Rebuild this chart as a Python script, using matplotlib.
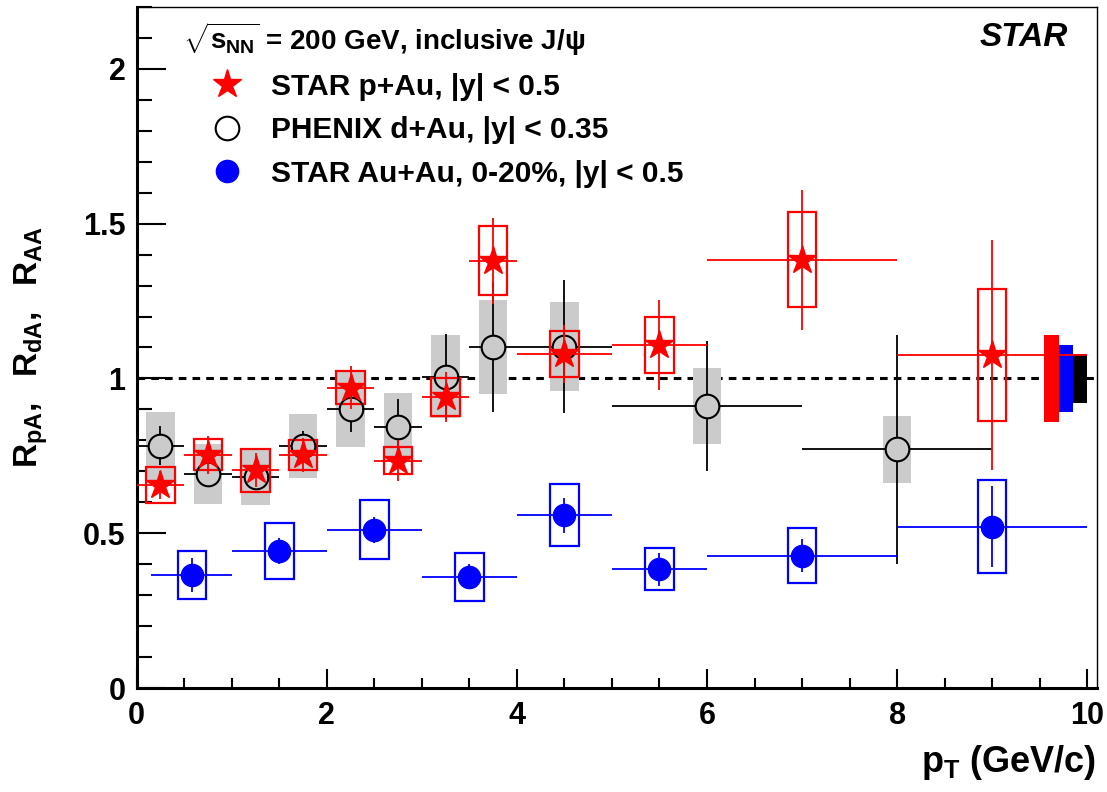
import numpy as np
import matplotlib
matplotlib.use('Agg')
import matplotlib.pyplot as plt
from matplotlib.lines import Line2D
from matplotlib.ticker import MultipleLocator, FuncFormatter

plt.rcParams['font.family'] = ['Liberation Sans', 'DejaVu Sans']
plt.rcParams['font.weight'] = 'bold'
plt.rcParams['axes.labelweight'] = 'bold'
plt.rcParams['mathtext.fontset'] = 'custom'
plt.rcParams['mathtext.rm'] = 'Liberation Sans:bold'
plt.rcParams['mathtext.it'] = 'Liberation Sans:bold'
plt.rcParams['mathtext.bf'] = 'Liberation Sans:bold'

# ---- STAR p+Au ----
star_x = np.array([0.25, 0.75, 1.25, 1.75, 2.25, 2.75, 3.25, 3.75, 4.5, 5.5, 7.0, 9.0])
star_xerr = np.array([0.25, 0.25, 0.25, 0.25, 0.25, 0.25, 0.25, 0.25, 0.5, 0.5, 1.0, 1.0])
star_y = np.array([0.656, 0.753, 0.704, 0.753, 0.970, 0.735, 0.940, 1.380, 1.079, 1.108, 1.384, 1.076])
star_stat = np.array([0.045, 0.06, 0.055, 0.055, 0.07, 0.065, 0.08, 0.138, 0.094, 0.144, 0.226, 0.371])
star_sys = np.array([0.059, 0.05, 0.069, 0.049, 0.053, 0.044, 0.061, 0.112, 0.074, 0.091, 0.152, 0.214])

# ---- PHENIX d+Au ----
phx_x = np.array([0.25, 0.75, 1.25, 1.75, 2.25, 2.75, 3.25, 3.75, 4.5, 6.0, 8.0])
phx_xerr = np.array([0.25, 0.25, 0.25, 0.25, 0.25, 0.25, 0.25, 0.25, 0.5, 1.0, 1.0])
phx_y = np.array([0.783, 0.691, 0.683, 0.783, 0.902, 0.842, 1.005, 1.102, 1.103, 0.910, 0.771])
phx_stat = np.array([0.062, 0.04, 0.035, 0.047, 0.075, 0.093, 0.137, 0.209, 0.214, 0.21, 0.37])
phx_sys = np.array([0.11, 0.096, 0.093, 0.103, 0.122, 0.112, 0.134, 0.152, 0.143, 0.123, 0.107])

# ---- STAR Au+Au 0-20% ----
aa_x = np.array([0.58, 1.5, 2.5, 3.5, 4.5, 5.5, 7.0, 9.0])
aa_xlo = np.array([0.15, 1.0, 2.0, 3.0, 4.0, 5.0, 6.0, 8.0])
aa_xhi = np.array([1.0, 2.0, 3.0, 4.0, 5.0, 6.0, 8.0, 10.0])
aa_y = np.array([0.365, 0.443, 0.512, 0.360, 0.558, 0.384, 0.428, 0.522])
aa_stat = np.array([0.055, 0.042, 0.042, 0.04, 0.057, 0.054, 0.054, 0.13])
aa_sys = np.array([0.078, 0.089, 0.096, 0.077, 0.10, 0.068, 0.089, 0.15])

# global normalization uncertainties (p+Au, Au+Au, d+Au)
norm_x = [9.625, 9.775, 9.925]
norm_err = [0.14, 0.108, 0.079]
norm_col = ['red', 'blue', 'black']

labels = ['STAR p+Au, |y| < 0.5', 'PHENIX d+Au, |y| < 0.35', 'STAR Au+Au, 0-20%, |y| < 0.5']

box_w = 0.3
xmax, ymax = 10.1, 2.2

fig = plt.figure(figsize=(11.07, 7.92), dpi=100)
ax = fig.add_axes([0.1235, 0.131, 0.8672, 0.8605])
ax.set_xlim(0, xmax)
ax.set_ylim(0, ymax)

ax.axhline(1.0, color='black', ls=(0, (2.5, 2)), lw=2.2, zorder=1)

# systematic boxes
ax.bar(phx_x, 2 * phx_sys, bottom=phx_y - phx_sys, width=box_w, color='#cbcbcb', lw=0, zorder=2)
ax.bar(norm_x, 2 * np.array(norm_err), bottom=1 - np.array(norm_err), width=0.15, color=norm_col, lw=0, zorder=2)
ax.bar(star_x, 2 * star_sys, bottom=star_y - star_sys, width=box_w, facecolor='none', edgecolor='red', lw=1.6, zorder=4)
ax.bar(aa_x, 2 * aa_sys, bottom=aa_y - aa_sys, width=box_w, facecolor='none', edgecolor='blue', lw=1.6, zorder=4)

# PHENIX error bars stop at the open marker edge
ms_phx = 17
r_px = ms_phx / 2 * fig.dpi / 72
gy = r_px / (ax.get_position().height * fig.get_figheight() * fig.dpi / ymax)
gx = r_px / (ax.get_position().width * fig.get_figwidth() * fig.dpi / xmax)
has_v = phx_stat > gy
ax.vlines(phx_x[has_v], phx_y[has_v] + gy, phx_y[has_v] + phx_stat[has_v], color='black', lw=1.3, zorder=3)
ax.vlines(phx_x[has_v], phx_y[has_v] - phx_stat[has_v], phx_y[has_v] - gy, color='black', lw=1.3, zorder=3)
ax.hlines(phx_y, phx_x - phx_xerr, phx_x - gx, color='black', lw=1.3, zorder=3)
ax.hlines(phx_y, phx_x + gx, phx_x + phx_xerr, color='black', lw=1.3, zorder=3)
ax.plot(phx_x, phx_y, 'o', ms=ms_phx, mfc='none', mec='black', mew=1.5, zorder=5)

ax.errorbar(star_x, star_y, xerr=star_xerr, yerr=star_stat, fmt='none', ecolor='red', elinewidth=1.3, capsize=0, zorder=6)
ax.plot(star_x, star_y, '*', ms=21, color='red', mec='red', zorder=7)

ax.errorbar(aa_x, aa_y, xerr=[aa_x - aa_xlo, aa_xhi - aa_x], yerr=aa_stat, fmt='none', ecolor='blue', elinewidth=1.3, capsize=0, zorder=6)
ax.plot(aa_x, aa_y, 'o', ms=16, color='blue', zorder=7)

# axes style (ROOT-like)
ax.xaxis.set_major_locator(MultipleLocator(2))
ax.xaxis.set_minor_locator(MultipleLocator(0.5))
ax.yaxis.set_major_locator(MultipleLocator(0.5))
ax.yaxis.set_minor_locator(MultipleLocator(0.1))
ax.yaxis.set_major_formatter(FuncFormatter(lambda v, p: '%g' % v))
ax.tick_params(which='both', direction='in', top=False, right=False, width=1.5, labelsize=22)
ax.tick_params(axis='y', which='major', length=21, pad=8)
ax.tick_params(axis='y', which='minor', length=10.5)
ax.tick_params(axis='x', which='major', length=14, pad=9)
ax.tick_params(axis='x', which='minor', length=7)
for s in ['left', 'bottom']:
    ax.spines[s].set_linewidth(2.2)
for s in ['top', 'right']:
    ax.spines[s].set_linewidth(1.0)

ax.set_ylabel(r'$R_{pA},\ \ R_{dA},\ \ R_{AA}$', fontsize=24)
ax.yaxis.set_label_coords(-0.09, 0.5)
ax.set_xlabel(r'$p_{T}$ (GeV/c)', fontsize=26, loc='right')
ax.xaxis.set_label_coords(1.0, -0.08)

ax.text(0.97, 0.978, 'STAR', transform=ax.transAxes, ha='right', va='top',
        fontsize=24, fontstyle='italic', fontweight='bold')
ax.text(0.048, 0.952, r'$\sqrt{s_{NN}}$ = 200 GeV, inclusive J/ψ', transform=ax.transAxes,
        ha='left', va='center', fontsize=20)

handles = [Line2D([], [], ls='none', marker='*', ms=21, color='red'),
           Line2D([], [], ls='none', marker='o', ms=17, mfc='none', mec='black', mew=1.5),
           Line2D([], [], ls='none', marker='o', ms=16, color='blue')]
ax.legend(handles, labels, loc='upper left', bbox_to_anchor=(0.078, 0.903), frameon=False,
          fontsize=21.5, handlelength=1.0, handletextpad=1.0, labelspacing=0.52,
          borderpad=0, borderaxespad=0)

fig.savefig('out.png', dpi=100)
